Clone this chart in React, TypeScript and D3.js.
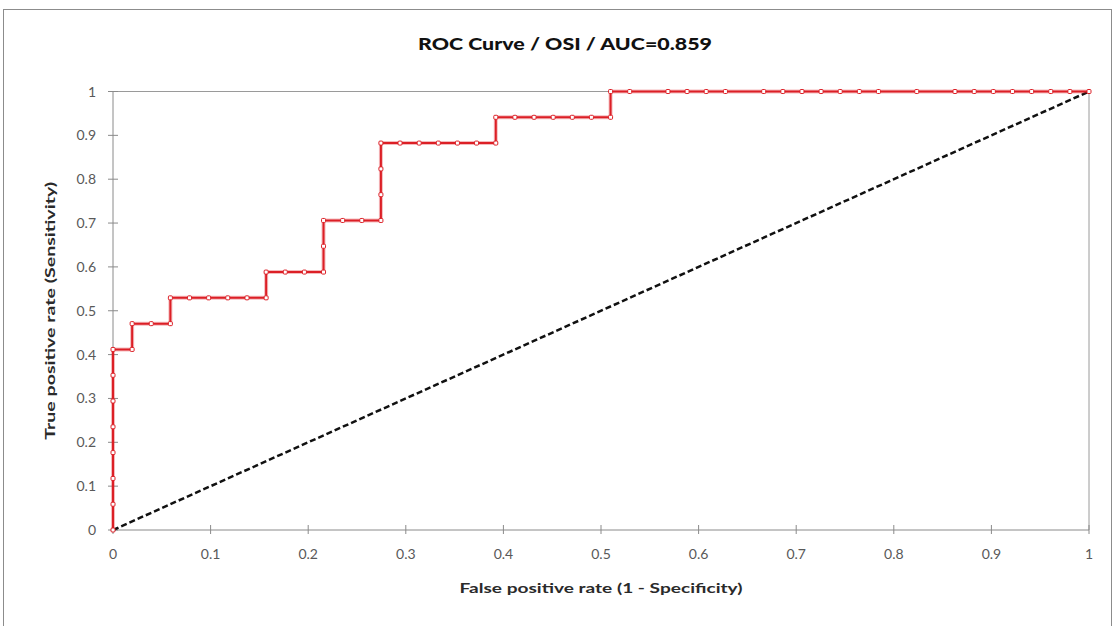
import React from "react";
import * as d3 from "d3";

const TITLE = "ROC Curve / OSI / AUC=0.859";
const X_LABEL = "False positive rate (1 - Specificity)";
const Y_LABEL = "True positive rate (Sensitivity)";

const fpr = [
  0, 0, 0, 0, 0, 0, 0, 0,
  0.0196, 0.0196, 0.0392, 0.0588, 0.0588,
  0.0784, 0.098, 0.1176, 0.1373, 0.1569, 0.1569,
  0.1765, 0.1961, 0.2157, 0.2157, 0.2157,
  0.2353, 0.2549, 0.2745, 0.2745, 0.2745, 0.2745,
  0.2941, 0.3137, 0.3333, 0.3529, 0.3725, 0.3922, 0.3922,
  0.4118, 0.4314, 0.451, 0.4706, 0.4902, 0.5098, 0.5098,
  0.5294, 0.5686, 0.5882, 0.6078, 0.6275, 0.6667, 0.6863, 0.7059,
  0.7255, 0.7451, 0.7647, 0.7843, 0.8235, 0.8627, 0.8824, 0.902,
  0.9216, 0.9412, 0.9608, 0.9804, 1,
];
const tpr = [
  0, 0.0588, 0.1176, 0.1765, 0.2353, 0.2941, 0.3529, 0.4118,
  0.4118, 0.4706, 0.4706, 0.4706, 0.5294,
  0.5294, 0.5294, 0.5294, 0.5294, 0.5294, 0.5882,
  0.5882, 0.5882, 0.5882, 0.6471, 0.7059,
  0.7059, 0.7059, 0.7059, 0.7647, 0.8235, 0.8824,
  0.8824, 0.8824, 0.8824, 0.8824, 0.8824, 0.8824, 0.9412,
  0.9412, 0.9412, 0.9412, 0.9412, 0.9412, 0.9412, 1,
  1, 1, 1, 1, 1, 1, 1, 1,
  1, 1, 1, 1, 1, 1, 1, 1,
  1, 1, 1, 1, 1,
];
const diagX = [0, 1];
const diagY = [0, 1];
const xTicks = [0, 0.1, 0.2, 0.3, 0.4, 0.5, 0.6, 0.7, 0.8, 0.9, 1];
const yTicks = [0, 0.1, 0.2, 0.3, 0.4, 0.5, 0.6, 0.7, 0.8, 0.9, 1];

const W = 1115;
const H = 626;
const M = { left: 113, right: 1089, top: 91.5, bottom: 530 };
const FONT = "Lato, 'Open Sans', sans-serif";
const RED = "#dc1f26";

export default function App() {
  const x = d3.scaleLinear().domain([0, 1]).range([M.left, M.right]);
  const y = d3.scaleLinear().domain([0, 1]).range([M.bottom, M.top]);
  const pts = fpr.map((f, i) => [f, tpr[i]] as [number, number]);
  const line = d3
    .line<[number, number]>()
    .x((d) => x(d[0]))
    .y((d) => y(d[1]));
  const diag = diagX.map((v, i) => [v, diagY[i]] as [number, number]);
  const fmt = (v: number) => (v === 0 || v === 1 ? String(v) : d3.format(".1f")(v));

  return (
    <svg
      width={W}
      height={H}
      style={{ position: "absolute", left: 0, top: 0, background: "#fff" }}
    >
      <rect x={3.5} y={9.5} width={1108} height={630} fill="#fff" stroke="#8c8c8c" strokeWidth={1} />
      <text
        x={565}
        y={50}
        textAnchor="middle"
        fontFamily={FONT}
        fontWeight="900"
        fontSize={17}
        fill="#111"
        textLength={294}
        lengthAdjust="spacingAndGlyphs"
      >
        {TITLE}
      </text>
      {/* plot border */}
      <line x1={x(0)} x2={x(1)} y1={y(1)} y2={y(1)} stroke="#9a9a9a" strokeWidth={1} />
      <line x1={x(1)} x2={x(1)} y1={y(1)} y2={y(0)} stroke="#9a9a9a" strokeWidth={1} />
      {/* axes */}
      <line x1={x(0)} x2={x(1)} y1={y(0)} y2={y(0)} stroke="#8a8a8a" strokeWidth={1} />
      <line x1={x(0)} x2={x(0)} y1={y(1)} y2={y(0)} stroke="#8a8a8a" strokeWidth={1} />
      {xTicks.map((t) => (
        <g key={"xt" + t}>
          <line x1={x(t)} x2={x(t)} y1={y(0) - 5} y2={y(0) + 4} stroke="#8a8a8a" strokeWidth={1} />
          <text
            x={x(t)}
            y={y(0) + 29}
            textAnchor="middle"
            fontFamily={FONT}
            fontSize={14}
            fill="#595959"
          >
            {fmt(t)}
          </text>
        </g>
      ))}
      {yTicks.map((t) => (
        <g key={"yt" + t}>
          <line x1={x(0) - 5} x2={x(0) + 5} y1={y(t)} y2={y(t)} stroke="#8a8a8a" strokeWidth={1} />
          <text
            x={x(0) - 17}
            y={y(t) + 5}
            textAnchor="end"
            fontFamily={FONT}
            fontSize={14}
            fill="#595959"
          >
            {fmt(t)}
          </text>
        </g>
      ))}
      <text
        x={(M.left + M.right) / 2}
        y={593}
        textAnchor="middle"
        fontFamily={FONT}
        fontWeight="bold"
        fontSize={13}
        fill="#2a2a2a"
        textLength={283}
        lengthAdjust="spacingAndGlyphs"
      >
        {X_LABEL}
      </text>
      <text
        transform={`translate(55, ${(M.top + M.bottom) / 2}) rotate(-90)`}
        textAnchor="middle"
        fontFamily={FONT}
        fontWeight="bold"
        fontSize={13}
        fill="#2a2a2a"
        textLength={258}
        lengthAdjust="spacingAndGlyphs"
      >
        {Y_LABEL}
      </text>
      <path
        d={line(diag) || ""}
        fill="none"
        stroke="#111"
        strokeWidth={2.5}
        strokeDasharray="6,3"
      />
      <path d={line(pts) || ""} fill="none" stroke={RED} strokeOpacity={0.3} strokeWidth={4} />
      <path d={line(pts) || ""} fill="none" stroke={RED} strokeWidth={2} />
      {pts.map((p, i) => (
        <rect
          key={"m" + i}
          x={x(p[0]) - 2}
          y={y(p[1]) - 2}
          width={4}
          height={4}
          rx={1}
          fill="#fff"
          stroke={RED}
          strokeWidth={1}
        />
      ))}
    </svg>
  );
}
